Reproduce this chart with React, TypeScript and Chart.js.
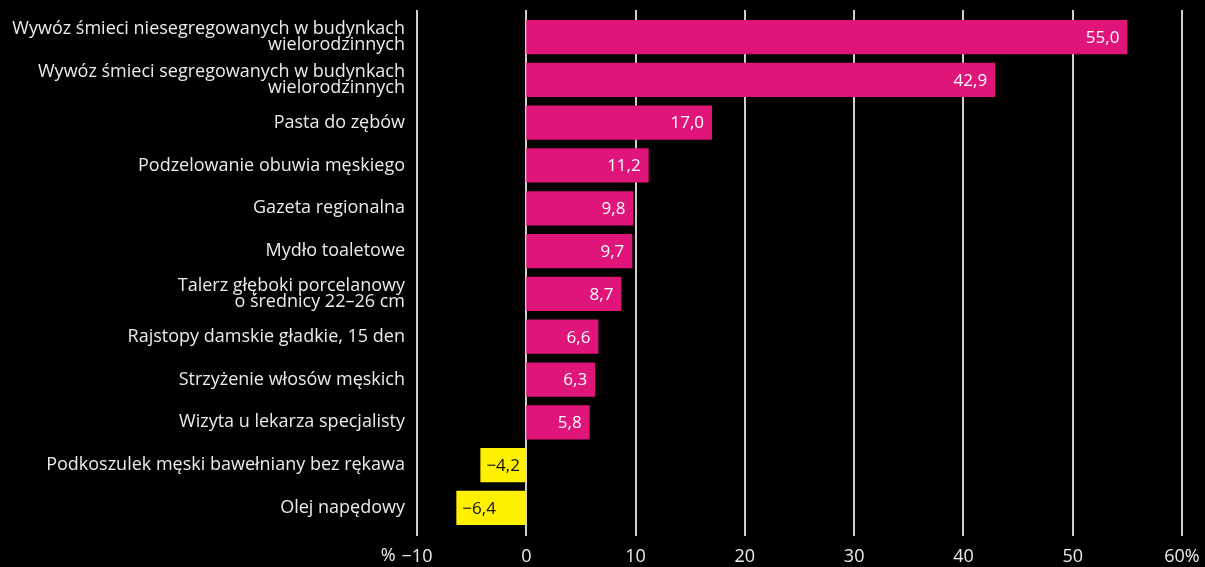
import React, { useEffect, useRef } from "react";
import { Chart, registerables } from "chart.js";

Chart.register(...registerables);

const categories: (string | string[])[] = [
  ["Wywóz śmieci niesegregowanych w budynkach", "wielorodzinnych"],
  ["Wywóz śmieci segregowanych w budynkach", "wielorodzinnych"],
  "Pasta do zębów",
  "Podzelowanie obuwia męskiego",
  "Gazeta regionalna",
  "Mydło toaletowe",
  ["Talerz głęboki porcelanowy", "o średnicy 22–26 cm"],
  "Rajstopy damskie gładkie, 15 den",
  "Strzyżenie włosów męskich",
  "Wizyta u lekarza specjalisty",
  "Podkoszulek męski bawełniany bez rękawa",
  "Olej napędowy",
];

const values: number[] = [55.0, 42.9, 17.0, 11.2, 9.8, 9.7, 8.7, 6.6, 6.3, 5.8, -4.2, -6.4];

const xTicks: number[] = [-10, 0, 10, 20, 30, 40, 50, 60];
const xTickLabels: string[] = ["\u221210", "0", "10", "20", "30", "40", "50", "60%"];

const POS = "#e0157a";
const NEG = "#fff000";
const TEXT = "#ebebeb";
const FONT = "'Open Sans', 'Noto Sans', sans-serif";

const fmt = (v: number) => (v < 0 ? "\u2212" : "") + Math.abs(v).toFixed(1).replace(".", ",");

export default function App() {
  const ref = useRef<HTMLCanvasElement | null>(null);

  useEffect(() => {
    if (!ref.current) return;

    const gridPlugin = {
      id: "customGrid",
      beforeDatasetsDraw(chart: any) {
        const ctx = chart.ctx;
        const xs = chart.scales.x;
        ctx.save();
        ctx.strokeStyle = "#cfcfcf";
        ctx.lineWidth = 2;
        xTicks.forEach((t) => {
          const px = Math.round(xs.getPixelForValue(t));
          ctx.beginPath();
          ctx.moveTo(px, 10);
          ctx.lineTo(px, 536);
          ctx.stroke();
        });
        ctx.restore();
      },
      afterDatasetsDraw(chart: any) {
        const ctx = chart.ctx;
        const meta = chart.getDatasetMeta(0);
        ctx.save();
        ctx.font = `17px ${FONT}`;
        ctx.textBaseline = "middle";
        meta.data.forEach((el: any, i: number) => {
          const v = values[i];
          if (v >= 0) {
            ctx.fillStyle = "#ffffff";
            ctx.textAlign = "right";
            ctx.fillText(fmt(v), el.x - 8, el.y + 1);
          } else {
            ctx.fillStyle = "#111111";
            ctx.textAlign = "left";
            ctx.fillText(fmt(v), el.x + 6, el.y + 1);
          }
        });
        const xs = chart.scales.x;
        ctx.font = `18px ${FONT}`;
        ctx.fillStyle = TEXT;
        ctx.textBaseline = "alphabetic";
        const wFirst = ctx.measureText(xTickLabels[0]).width;
        ctx.textAlign = "right";
        ctx.fillText("%", xs.getPixelForValue(xTicks[0]) - wFirst / 2 - 6, 561);
        ctx.restore();
      },
    };

    const chart = new Chart(ref.current, {
      type: "bar",
      data: {
        labels: categories,
        datasets: [
          {
            data: values,
            backgroundColor: values.map((v) => (v >= 0 ? POS : NEG)),
            borderWidth: 0,
            barPercentage: 0.8,
            categoryPercentage: 1,
          },
        ],
      },
      options: {
        indexAxis: "y",
        responsive: false,
        animation: false,
        layout: { padding: { top: 15.6, right: 23, left: 0, bottom: 0 } },
        plugins: { legend: { display: false }, tooltip: { enabled: false } },
        scales: {
          x: {
            type: "linear",
            min: -10,
            max: 60,
            grid: { display: false },
            border: { display: false },
            afterFit: (s: any) => {
              s.height = 37.6;
              s.paddingLeft = 0;
              s.paddingRight = 0;
            },
            afterBuildTicks: (s: any) => {
              s.ticks = xTicks.map((v) => ({ value: v }));
            },
            ticks: {
              color: TEXT,
              font: { family: FONT, size: 18 },
              padding: 9,
              maxRotation: 0,
              callback: (v: any) => {
                const i = xTicks.indexOf(Number(v));
                return i >= 0 ? xTickLabels[i] : "";
              },
            },
          },
          y: {
            grid: { display: false },
            border: { display: false },
            afterFit: (s: any) => {
              s.width = 417;
            },
            ticks: {
              color: TEXT,
              font: { family: FONT, size: 18, lineHeight: 0.9 },
              padding: 4,
              autoSkip: false,
            },
          },
        },
      },
      plugins: [gridPlugin],
    });

    return () => chart.destroy();
  }, []);

  return (
    <div style={{ position: "fixed", left: 0, top: 0, width: 1205, height: 567, background: "#000" }}>
      <canvas ref={ref} width={1205} height={567} style={{ display: "block" }} />
    </div>
  );
}
